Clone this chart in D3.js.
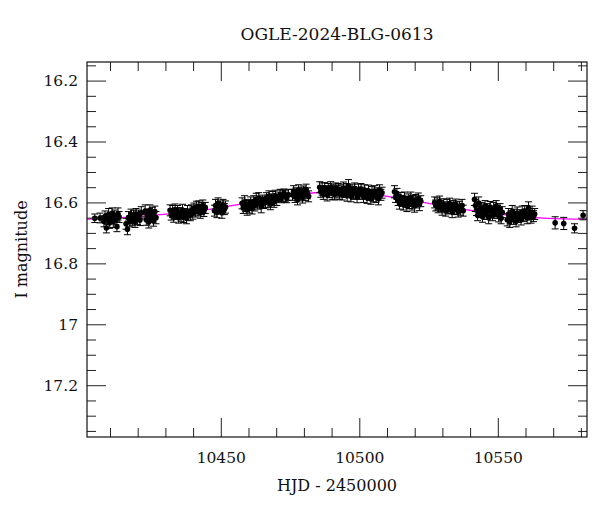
<!DOCTYPE html>
<html>
<head>
<meta charset="utf-8">
<script src="https://cdn.jsdelivr.net/npm/d3@7"></script>
<style>
  body { margin: 0; background: #fff; }
  text { font-family: "DejaVu Serif", serif; fill: #111; }
</style>
</head>
<body>
<svg id="chart" width="600" height="512"></svg>
<script>
"use strict";

const title = "OGLE-2024-BLG-0613";
const xLabel = "HJD - 2450000";
const yLabel = "I magnitude";

const xMajor = [10450, 10500, 10550];
const xMinor = [10410, 10420, 10430, 10440, 10460, 10470, 10480, 10490, 10510, 10520, 10530, 10540, 10560, 10570, 10580];
const yMajor = [16.2, 16.4, 16.6, 16.8, 17, 17.2];
const yMinor = [16.15, 16.25, 16.3, 16.35, 16.45, 16.5, 16.55, 16.65, 16.7, 16.75, 16.85, 16.9, 16.95, 17.05, 17.1, 17.15, 17.25, 17.3, 17.35];

// [HJD - 2450000, I mag, error]
const photometry = [
  [10404.5, 16.652, 0.014], [10406.4, 16.651, 0.016],
  [10407.8, 16.662, 0.018], [10408.2, 16.646, 0.018], [10408.7, 16.684, 0.016], [10409.1, 16.655, 0.018],
  [10409.5, 16.640, 0.020], [10409.9, 16.667, 0.018], [10410.3, 16.650, 0.018], [10410.8, 16.636, 0.018],
  [10411.2, 16.662, 0.020], [10411.7, 16.643, 0.018], [10412.1, 16.655, 0.018], [10412.5, 16.680, 0.016],
  [10412.9, 16.638, 0.020], [10413.3, 16.648, 0.018],
  [10415.8, 16.670, 0.018], [10416.3, 16.688, 0.018], [10416.7, 16.650, 0.020], [10417.2, 16.662, 0.018],
  [10417.6, 16.640, 0.018], [10418.1, 16.655, 0.020], [10418.5, 16.644, 0.018], [10419.0, 16.664, 0.018],
  [10419.4, 16.638, 0.018], [10419.9, 16.652, 0.020], [10420.3, 16.643, 0.018], [10420.8, 16.658, 0.018],
  [10421.3, 16.634, 0.020],
  [10422.7, 16.628, 0.020], [10423.1, 16.657, 0.018], [10423.5, 16.640, 0.018], [10424.0, 16.664, 0.020],
  [10424.4, 16.626, 0.018], [10424.8, 16.648, 0.018], [10425.3, 16.636, 0.020], [10425.7, 16.660, 0.018],
  [10426.2, 16.630, 0.018], [10426.6, 16.650, 0.020],
  [10431.7, 16.626, 0.018], [10432.1, 16.640, 0.018], [10432.6, 16.630, 0.020], [10433.0, 16.647, 0.018],
  [10433.5, 16.623, 0.018], [10433.9, 16.638, 0.018], [10434.4, 16.630, 0.020], [10434.8, 16.650, 0.018],
  [10435.3, 16.635, 0.018], [10435.7, 16.644, 0.018], [10436.2, 16.626, 0.020], [10436.6, 16.648, 0.018],
  [10437.1, 16.638, 0.018], [10437.6, 16.652, 0.018], [10438.0, 16.630, 0.020],
  [10439.0, 16.642, 0.018], [10439.4, 16.626, 0.018], [10439.9, 16.635, 0.020], [10440.3, 16.620, 0.018],
  [10440.8, 16.630, 0.018], [10441.2, 16.616, 0.020], [10441.7, 16.626, 0.018], [10442.1, 16.613, 0.018],
  [10442.6, 16.634, 0.018], [10443.0, 16.620, 0.020], [10443.5, 16.610, 0.018], [10443.9, 16.628, 0.018],
  [10444.4, 16.618, 0.018],
  [10447.7, 16.627, 0.018], [10448.1, 16.610, 0.020], [10448.6, 16.632, 0.018], [10449.0, 16.603, 0.018],
  [10449.5, 16.620, 0.018], [10449.9, 16.615, 0.020], [10450.4, 16.634, 0.018], [10450.8, 16.608, 0.018],
  [10451.3, 16.622, 0.018], [10451.7, 16.615, 0.020],
  [10457.7, 16.603, 0.018], [10458.1, 16.618, 0.018], [10458.6, 16.598, 0.020], [10459.0, 16.612, 0.018],
  [10459.5, 16.624, 0.018], [10459.9, 16.608, 0.018], [10460.4, 16.615, 0.020], [10460.8, 16.600, 0.018],
  [10461.3, 16.620, 0.018],
  [10461.9, 16.596, 0.018], [10462.3, 16.610, 0.018], [10462.8, 16.590, 0.020], [10463.2, 16.604, 0.018],
  [10463.7, 16.586, 0.018], [10464.1, 16.600, 0.018], [10464.6, 16.614, 0.020], [10465.0, 16.594, 0.018],
  [10465.4, 16.602, 0.018],
  [10466.1, 16.600, 0.018], [10466.5, 16.586, 0.018], [10467.0, 16.596, 0.020], [10467.4, 16.580, 0.018],
  [10467.9, 16.606, 0.018], [10468.3, 16.590, 0.018], [10468.8, 16.584, 0.020], [10469.2, 16.598, 0.018],
  [10469.7, 16.578, 0.018], [10470.2, 16.592, 0.018],
  [10471.0, 16.582, 0.016], [10471.4, 16.575, 0.018], [10471.9, 16.585, 0.016], [10472.3, 16.578, 0.018],
  [10472.8, 16.572, 0.016], [10473.3, 16.580, 0.018], [10473.8, 16.585, 0.016], [10474.4, 16.575, 0.018],
  [10475.9, 16.575, 0.018], [10476.3, 16.563, 0.018], [10476.8, 16.580, 0.020], [10477.2, 16.570, 0.018],
  [10477.7, 16.590, 0.018], [10478.1, 16.560, 0.018], [10478.6, 16.575, 0.020], [10479.0, 16.568, 0.018],
  [10479.5, 16.584, 0.018], [10479.9, 16.564, 0.018], [10480.4, 16.574, 0.020], [10480.8, 16.558, 0.018],
  [10481.3, 16.570, 0.018], [10481.7, 16.580, 0.018],
  [10485.7, 16.550, 0.018], [10486.1, 16.565, 0.018], [10486.6, 16.556, 0.020], [10487.0, 16.572, 0.018],
  [10487.5, 16.553, 0.018], [10487.9, 16.563, 0.018], [10488.4, 16.575, 0.020], [10488.8, 16.556, 0.018],
  [10489.3, 16.566, 0.018], [10489.7, 16.550, 0.018], [10490.2, 16.570, 0.020], [10490.6, 16.558, 0.018],
  [10491.1, 16.574, 0.018], [10491.5, 16.554, 0.018], [10492.0, 16.565, 0.020], [10492.4, 16.556, 0.018],
  [10492.9, 16.572, 0.018],
  [10493.4, 16.560, 0.018], [10493.8, 16.574, 0.018], [10494.3, 16.553, 0.020], [10494.7, 16.566, 0.018],
  [10495.2, 16.556, 0.018], [10495.6, 16.578, 0.018], [10496.1, 16.545, 0.020], [10496.5, 16.565, 0.018],
  [10497.0, 16.580, 0.018], [10497.4, 16.558, 0.018], [10497.9, 16.570, 0.020], [10498.3, 16.554, 0.018],
  [10498.8, 16.568, 0.018], [10499.2, 16.583, 0.018], [10499.7, 16.560, 0.020], [10500.1, 16.572, 0.018],
  [10500.6, 16.556, 0.018], [10501.0, 16.568, 0.018], [10501.5, 16.580, 0.020], [10501.9, 16.560, 0.018],
  [10502.4, 16.572, 0.018], [10502.8, 16.585, 0.018], [10503.3, 16.563, 0.020], [10503.7, 16.575, 0.018],
  [10504.2, 16.588, 0.018], [10504.6, 16.566, 0.018], [10505.1, 16.578, 0.020], [10505.5, 16.563, 0.018],
  [10506.0, 16.582, 0.018], [10506.4, 16.570, 0.018], [10506.9, 16.588, 0.020], [10507.3, 16.560, 0.018],
  [10507.8, 16.575, 0.018], [10508.2, 16.568, 0.018],
  [10512.7, 16.565, 0.020], [10513.1, 16.582, 0.018], [10513.6, 16.572, 0.018], [10514.0, 16.592, 0.018],
  [10514.5, 16.602, 0.020], [10515.0, 16.585, 0.018], [10515.4, 16.595, 0.018], [10515.9, 16.607, 0.018],
  [10516.3, 16.586, 0.020], [10516.8, 16.598, 0.018], [10517.2, 16.612, 0.018], [10517.7, 16.590, 0.018],
  [10518.1, 16.600, 0.020], [10518.6, 16.584, 0.018], [10519.0, 16.607, 0.018], [10519.5, 16.595, 0.018],
  [10519.9, 16.612, 0.020], [10520.4, 16.592, 0.018], [10520.8, 16.600, 0.018], [10521.3, 16.587, 0.018],
  [10521.7, 16.607, 0.020], [10522.2, 16.596, 0.018],
  [10527.2, 16.600, 0.018], [10527.6, 16.610, 0.018], [10528.1, 16.605, 0.020], [10528.5, 16.616, 0.018],
  [10529.0, 16.597, 0.018], [10529.4, 16.612, 0.018], [10529.9, 16.622, 0.020], [10530.3, 16.606, 0.018],
  [10530.8, 16.616, 0.018], [10531.2, 16.627, 0.018], [10531.7, 16.610, 0.020], [10532.1, 16.620, 0.018],
  [10532.6, 16.604, 0.018], [10533.0, 16.618, 0.018], [10533.5, 16.630, 0.020], [10533.9, 16.612, 0.018],
  [10534.4, 16.622, 0.018], [10534.8, 16.607, 0.018], [10535.3, 16.618, 0.020], [10535.7, 16.630, 0.018],
  [10536.2, 16.614, 0.018], [10536.6, 16.624, 0.018], [10537.1, 16.610, 0.020], [10537.5, 16.627, 0.018],
  [10541.6, 16.590, 0.020], [10541.9, 16.610, 0.020], [10542.3, 16.625, 0.018], [10542.7, 16.642, 0.018],
  [10543.1, 16.602, 0.020], [10543.6, 16.632, 0.018], [10544.0, 16.618, 0.018], [10544.5, 16.647, 0.018],
  [10544.9, 16.625, 0.020], [10545.4, 16.612, 0.018], [10545.8, 16.638, 0.018], [10546.3, 16.622, 0.018],
  [10546.7, 16.650, 0.020], [10547.2, 16.615, 0.018], [10547.6, 16.630, 0.018], [10548.1, 16.642, 0.018],
  [10548.5, 16.620, 0.020], [10549.0, 16.635, 0.018], [10549.4, 16.612, 0.018], [10549.9, 16.628, 0.018],
  [10550.3, 16.644, 0.020], [10550.8, 16.622, 0.018], [10551.2, 16.652, 0.018], [10551.6, 16.632, 0.018],
  [10553.4, 16.657, 0.020], [10553.9, 16.638, 0.018], [10554.3, 16.664, 0.018], [10554.8, 16.645, 0.018],
  [10555.2, 16.630, 0.020], [10555.7, 16.654, 0.018], [10556.1, 16.640, 0.018], [10556.6, 16.662, 0.018],
  [10557.0, 16.635, 0.020], [10557.5, 16.648, 0.018], [10557.9, 16.642, 0.018], [10558.4, 16.656, 0.018],
  [10558.8, 16.632, 0.020], [10559.3, 16.645, 0.018], [10559.7, 16.628, 0.018], [10560.2, 16.640, 0.018],
  [10560.6, 16.650, 0.020], [10561.1, 16.618, 0.020], [10561.5, 16.638, 0.018], [10562.0, 16.650, 0.018],
  [10562.4, 16.632, 0.020], [10562.9, 16.645, 0.018], [10563.3, 16.638, 0.018],
  [10570.7, 16.667, 0.020], [10573.8, 16.669, 0.020], [10577.7, 16.685, 0.015], [10580.8, 16.642, 0.015]
];

// model curve, sampled by eye from the magenta line
const modelHjd = [10401.7, 10412, 10423, 10435, 10447, 10459, 10471, 10483, 10490, 10494, 10498, 10507, 10519, 10531, 10543, 10555, 10568, 10582.2];
const modelMag = [16.655, 16.651, 16.644, 16.634, 16.621, 16.603, 16.585, 16.569, 16.565, 16.564, 16.566, 16.576, 16.593, 16.613, 16.630, 16.643, 16.652, 16.655];

const svg = d3.select("#chart");
const plotLeft = 87, plotRight = 587, plotTop = 62, plotBottom = 437;

const x = d3.scaleLinear().domain([10401.7, 10582.2]).range([plotLeft, plotRight]);
const y = d3.scaleLinear().domain([16.139, 17.37]).range([plotTop, plotBottom]);

svg.append("defs").append("clipPath").attr("id", "plotclip")
    .append("rect")
        .attr("x", plotLeft).attr("y", plotTop)
        .attr("width", plotRight - plotLeft).attr("height", plotBottom - plotTop);

const plot = svg.append("g").attr("clip-path", "url(#plotclip)");

// model line
const line = d3.line()
    .x(function(d) { return x(d[0]); })
    .y(function(d) { return y(d[1]); })
    .curve(d3.curveMonotoneX);

plot.append("path")
    .datum(d3.zip(modelHjd, modelMag))
    .attr("d", line)
    .style("fill", "none")
    .style("stroke", "#ff00ff")
    .style("stroke-width", 1.3);

// error bars
const bars = plot.append("g")
    .style("stroke", "#000")
    .style("stroke-width", 1);

bars.selectAll("line.err")
    .data(photometry)
    .enter().append("line")
        .attr("class", "err")
        .attr("x1", function(d) { return x(d[0]); })
        .attr("x2", function(d) { return x(d[0]); })
        .attr("y1", function(d) { return y(d[1] - d[2]); })
        .attr("y2", function(d) { return y(d[1] + d[2]); });

bars.selectAll("line.capTop")
    .data(photometry)
    .enter().append("line")
        .attr("class", "capTop")
        .attr("x1", function(d) { return x(d[0]) - 3.5; })
        .attr("x2", function(d) { return x(d[0]) + 3.5; })
        .attr("y1", function(d) { return y(d[1] - d[2]); })
        .attr("y2", function(d) { return y(d[1] - d[2]); });

bars.selectAll("line.capBot")
    .data(photometry)
    .enter().append("line")
        .attr("class", "capBot")
        .attr("x1", function(d) { return x(d[0]) - 3.5; })
        .attr("x2", function(d) { return x(d[0]) + 3.5; })
        .attr("y1", function(d) { return y(d[1] + d[2]); })
        .attr("y2", function(d) { return y(d[1] + d[2]); });

plot.selectAll("circle")
    .data(photometry)
    .enter().append("circle")
        .attr("cx", function(d) { return x(d[0]); })
        .attr("cy", function(d) { return y(d[1]); })
        .attr("r", 2.8)
        .style("fill", "#000");

// axes, ticks pointing inwards on every side
function styleAxis(g) {
    g.select(".domain").remove();
    g.selectAll(".tick line").style("stroke", "#222");
    g.selectAll("text")
        .style("font-family", "'DejaVu Serif', serif")
        .style("font-size", "15.5px")
        .style("fill", "#111");
}

svg.append("g").attr("transform", "translate(0," + plotBottom + ")")
    .call(d3.axisBottom(x).tickValues(xMajor).tickSize(-19).tickPadding(15).tickFormat(d3.format("d")))
    .call(styleAxis);
svg.append("g").attr("transform", "translate(0," + plotBottom + ")")
    .call(d3.axisBottom(x).tickValues(xMinor).tickSize(-9).tickFormat(""))
    .call(styleAxis);
svg.append("g").attr("transform", "translate(0," + plotTop + ")")
    .call(d3.axisTop(x).tickValues(xMajor).tickSize(-19).tickFormat(""))
    .call(styleAxis);
svg.append("g").attr("transform", "translate(0," + plotTop + ")")
    .call(d3.axisTop(x).tickValues(xMinor).tickSize(-9).tickFormat(""))
    .call(styleAxis);

svg.append("g").attr("transform", "translate(" + plotLeft + ",0)")
    .call(d3.axisLeft(y).tickValues(yMajor).tickSize(-19).tickPadding(9).tickFormat(d3.format("")))
    .call(styleAxis);
svg.append("g").attr("transform", "translate(" + plotLeft + ",0)")
    .call(d3.axisLeft(y).tickValues(yMinor).tickSize(-9).tickFormat(""))
    .call(styleAxis);
svg.append("g").attr("transform", "translate(" + plotRight + ",0)")
    .call(d3.axisRight(y).tickValues(yMajor).tickSize(-19).tickFormat(""))
    .call(styleAxis);
svg.append("g").attr("transform", "translate(" + plotRight + ",0)")
    .call(d3.axisRight(y).tickValues(yMinor).tickSize(-9).tickFormat(""))
    .call(styleAxis);

// frame
svg.append("rect")
    .attr("x", plotLeft).attr("y", plotTop)
    .attr("width", plotRight - plotLeft).attr("height", plotBottom - plotTop)
    .style("fill", "none")
    .style("stroke", "#111")
    .style("stroke-width", 1.2);

svg.append("text")
    .attr("x", (plotLeft + plotRight) / 2).attr("y", 40)
    .attr("text-anchor", "middle")
    .style("font-size", "17px")
    .text(title);

svg.append("text")
    .attr("x", (plotLeft + plotRight) / 2).attr("y", 491)
    .attr("text-anchor", "middle")
    .style("font-size", "16px")
    .text(xLabel);

svg.append("text")
    .attr("transform", "translate(27," + ((plotTop + plotBottom) / 2) + ") rotate(-90)")
    .attr("text-anchor", "middle")
    .style("font-size", "16px")
    .text(yLabel);
</script>
</body>
</html>
